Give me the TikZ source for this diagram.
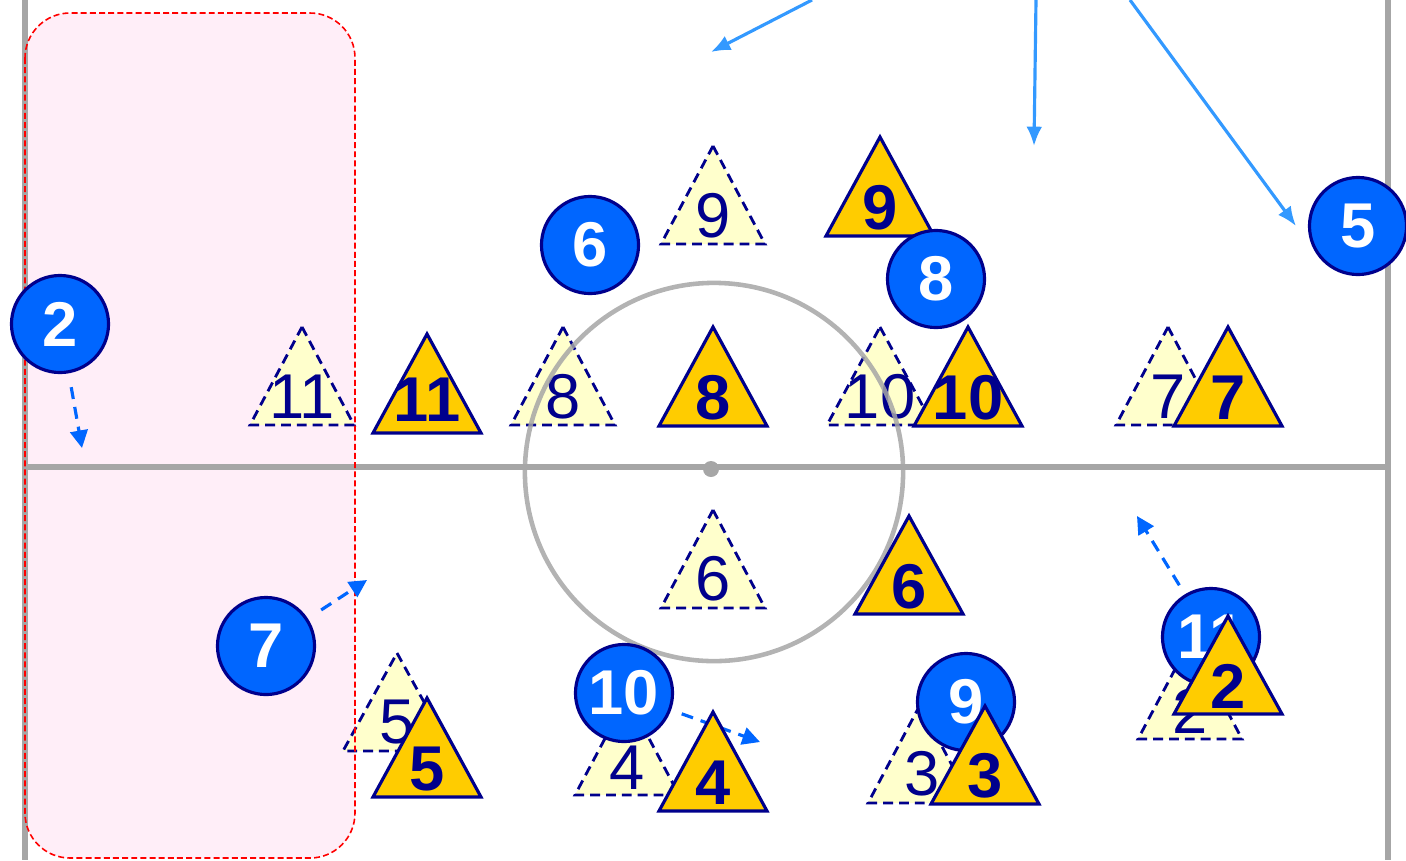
\documentclass[tikz,border=0pt]{standalone}
\usepackage{fontspec}
\setmainfont{Liberation Sans}
\usepackage{xcolor}
\usepackage{tikz}
\usetikzlibrary{positioning,arrows.meta}

\definecolor{teamblue}{HTML}{0066FF}
\definecolor{passblue}{HTML}{3399FF}
\definecolor{navy}{RGB}{0,0,140}
\definecolor{gold}{HTML}{FFCC00}
\definecolor{paleyellow}{HTML}{FFFFCC}
\definecolor{linegrey}{HTML}{A6A6A6}
\definecolor{pinkzone}{RGB}{255,238,248}

\begin{document}
\begin{tikzpicture}[x=0.01cm,y=-0.01cm,
  fieldline/.style={draw=linegrey, line width=1.5pt},
  zone/.style={draw=red, line width=0.45pt, dash pattern=on 1.7pt off 0.9pt, rounded corners=0.45cm},
  player/.style={circle, draw=navy, line width=0.9pt, fill=teamblue, text=white, minimum size=0.97cm, inner sep=0pt, font=\fontsize{18}{18}\selectfont\bfseries},
  hometri/.style={fill=gold, draw=navy, line width=0.9pt},
  ghosttri/.style={fill=paleyellow, draw=navy, line width=0.8pt, dash pattern=on 2.8pt off 1.7pt},
  homenum/.style={text=navy, inner sep=0pt, font=\fontsize{18}{18}\selectfont\bfseries},
  ghostnum/.style={text=navy, inner sep=0pt, font=\fontsize{18}{18}\selectfont},
  run/.style={draw=teamblue, line width=0.9pt, dash pattern=on 3.4pt off 2.3pt, -{Triangle[length=5pt,width=5pt]}},
  pass/.style={draw=passblue, line width=0.9pt, -{Latex[length=5.5pt,width=4.5pt]}}]
\useasboundingbox (0,0) rectangle (1406,860);
% zone and field
\fill[pinkzone, rounded corners=0.45cm] (25,13) rectangle (355,858);
\draw[fieldline] (25,0) -- (25,860);
\draw[fieldline] (1388,0) -- (1388,860);
\draw[fieldline] (25,467) -- (1388,467);
% ghost triangles
\draw[ghosttri] (302,327) -- ++(52,98) -- ++(-104,0) -- cycle;
\node[ghostnum] (g11) at (302,397) {11};
\draw[ghosttri] (563,327) -- ++(52,98) -- ++(-104,0) -- cycle;
\node[ghostnum] (g8) at (563,397) {8};
\draw[ghosttri] (880,327) -- ++(53,98) -- ++(-106,0) -- cycle;
\node[ghostnum] (g10) at (880,397) {10};
\draw[ghosttri] (1168,327) -- ++(52,98) -- ++(-104,0) -- cycle;
\node[ghostnum] (g7) at (1168,397) {7};
\draw[ghosttri] (713,146) -- ++(52,98) -- ++(-104,0) -- cycle;
\node[ghostnum] (g9) at (713,216) {9};
\draw[ghosttri] (713,510) -- ++(52,98) -- ++(-104,0) -- cycle;
\node[ghostnum] (g6) at (713,579) {6};
\draw[ghosttri] (397,653) -- ++(54,98) -- ++(-108,0) -- cycle;
\node[ghostnum] (g5) at (397,722) {5};
\draw[ghosttri] (627,697) -- ++(52,98) -- ++(-104,0) -- cycle;
\node[ghostnum] (g4) at (627,768) {4};
\draw[ghosttri] (920,705) -- ++(52,98) -- ++(-104,0) -- cycle;
\node[ghostnum] (g3) at (922,774) {3};
\draw[ghosttri] (1190,641) -- ++(52,98) -- ++(-104,0) -- cycle;
\node[ghostnum] (g2) at (1190,711) {2};
% zone border and centre circle
\draw[zone] (25,13) rectangle (355,858);
\draw[linegrey, line width=1.3pt, opacity=0.85] (714,472) circle (1.89cm);
\fill[linegrey] (711,469) circle (0.08cm);
% home triangle under player 8
\draw[hometri] (880,137) -- ++(54,99) -- ++(-108,0) -- cycle;
\node[homenum] (h9) at (880,208) {9};
% players
\node[player] (p2) at (60,324) {2};
\node[player] (p6) at (590,245) {6};
\node[player] (p8) at (936,279) {8};
\node[player] (p5) at (1358,226) {5};
\node[player] (p7) at (266,646) {7};
\node[player] (p10) at (624,693) {10};
\node[player] (p9) at (966,702) {9};
\node[player] (p11) at (1211,637) {11};
% runs and passes
\coordinate (r2) at (82,448);
\coordinate (r7) at (367,580);
\coordinate (r10) at (760,742);
\coordinate (r11) at (1137,516);
\draw[run, shorten <=4pt] (p2) -- (r2);
\draw[run, shorten <=4.5pt] (p7) -- (r7);
\draw[run, shorten <=3.2pt] (p10) -- (r10);
\draw[run, shorten <=3pt] (p11) -- (r11);
\coordinate (s1) at (812,0);
\coordinate (e1) at (711,52);
\coordinate (s2) at (1036,0);
\coordinate (e2) at (1034,146);
\coordinate (s3) at (1130,0);
\coordinate (e3) at (1296,226);
\draw[pass] (s1) -- (e1);
\draw[pass] (s2) -- (e2);
\draw[pass] (s3) -- (e3);
% home triangles
\draw[hometri] (427,334) -- ++(54,99) -- ++(-108,0) -- cycle;
\node[homenum] (h11) at (427,400) {11};
\draw[hometri] (713,327) -- ++(54,99) -- ++(-108,0) -- cycle;
\node[homenum] (h8) at (713,398) {8};
\draw[hometri] (968,327) -- ++(54,99) -- ++(-108,0) -- cycle;
\node[homenum] (h10) at (968,398) {10};
\draw[hometri] (1228,327) -- ++(54,99) -- ++(-108,0) -- cycle;
\node[homenum] (h7) at (1228,398) {7};
\draw[hometri] (909,516) -- ++(54,98) -- ++(-108,0) -- cycle;
\node[homenum] (h6) at (909,587) {6};
\draw[hometri] (427,698) -- ++(54,99) -- ++(-108,0) -- cycle;
\node[homenum] (h5) at (427,769) {5};
\draw[hometri] (713,712) -- ++(54,99) -- ++(-108,0) -- cycle;
\node[homenum] (h4) at (713,783) {4};
\draw[hometri] (985,706) -- ++(54,98) -- ++(-108,0) -- cycle;
\node[homenum] (h3) at (985,776) {3};
\draw[hometri] (1228,616) -- ++(54,98) -- ++(-108,0) -- cycle;
\node[homenum] (h2) at (1228,686) {2};
\end{tikzpicture}
\end{document}
